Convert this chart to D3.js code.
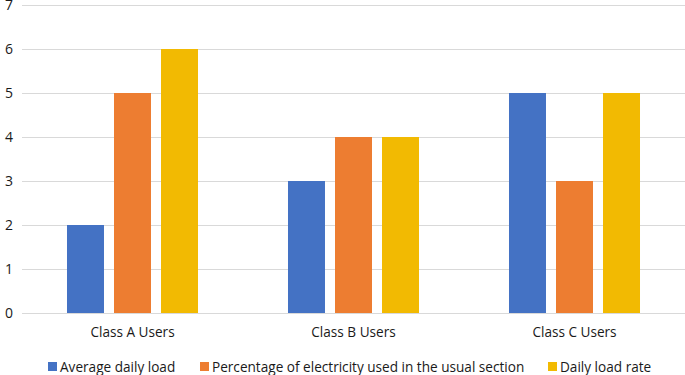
<!DOCTYPE html>
<html>
<head>
<meta charset="utf-8">
<script src="https://cdn.jsdelivr.net/npm/d3@7"></script>
<style>
  body { margin: 0; background: #fff; }
  svg { display: block; font-family: 'Open Sans', sans-serif; }
</style>
</head>
<body>
<svg id="chart" width="685" height="375"></svg>
<script>
const categories = ['Class A Users', 'Class B Users', 'Class C Users'];
const seriesNames = [
  'Average daily load',
  'Percentage of electricity used in the usual section',
  'Daily load rate'
];
const averageDailyLoad = [2, 3, 5];
const electricityPercentage = [5, 4, 3];
const dailyLoadRate = [6, 4, 5];
const yTicks = [0, 1, 2, 3, 4, 5, 6, 7];

const colors = ['#4472C4', '#ED7D31', '#F2BA02'];
const seriesValues = [averageDailyLoad, electricityPercentage, dailyLoadRate];

const svg = d3.select('#chart');
const margin = { top: 5, right: 0, bottom: 62, left: 22 };
const width = 685 - margin.left - margin.right;
const height = 375 - margin.top - margin.bottom;

const x0 = d3.scaleBand().domain(categories).range([0, width]).padding(0);
const groupPad = x0.bandwidth() * 0.2036;
const x1 = d3
  .scaleBand()
  .domain(d3.range(seriesNames.length))
  .range([groupPad, x0.bandwidth() - groupPad])
  .paddingInner(0.213)
  .paddingOuter(0);
const y = d3.scaleLinear().domain([0, 7]).range([height, 0]);

const g = svg.append('g').attr('transform', `translate(${margin.left},${margin.top})`);

// gridlines
g.selectAll('line.grid')
  .data(yTicks)
  .enter()
  .append('line')
  .attr('class', 'grid')
  .attr('x1', 0)
  .attr('x2', width)
  .attr('y1', d => Math.round(y(d)) + 0.5)
  .attr('y2', d => Math.round(y(d)) + 0.5)
  .attr('stroke', '#D9D9D9')
  .attr('stroke-width', 1);

// y labels
g.selectAll('text.ylab')
  .data(yTicks)
  .enter()
  .append('text')
  .attr('class', 'ylab')
  .attr('x', -17)
  .attr('y', d => y(d))
  .attr('dy', '0.35em')
  .attr('font-size', 14)
  .attr('fill', '#1a1a1a')
  .text(d => d);

// bars
const groups = g
  .selectAll('g.group')
  .data(categories)
  .enter()
  .append('g')
  .attr('class', 'group')
  .attr('transform', d => `translate(${x0(d)},0)`);

groups
  .selectAll('rect')
  .data((d, i) => seriesValues.map((vals, s) => ({ s, value: vals[i] })))
  .enter()
  .append('rect')
  .attr('x', d => x1(d.s))
  .attr('y', d => y(d.value))
  .attr('width', x1.bandwidth())
  .attr('height', d => y(0) - y(d.value))
  .attr('fill', d => colors[d.s]);

// category labels
g.selectAll('text.xlab')
  .data(categories)
  .enter()
  .append('text')
  .attr('class', 'xlab')
  .attr('x', d => x0(d) + x0.bandwidth() / 2)
  .attr('y', height + 24)
  .attr('text-anchor', 'middle')
  .attr('font-size', 13.6)
  .attr('fill', '#1a1a1a')
  .text(d => d);

// legend
const legendX = [48, 200, 548];
const legend = svg
  .selectAll('g.legend')
  .data(seriesNames)
  .enter()
  .append('g')
  .attr('class', 'legend')
  .attr('transform', (d, i) => `translate(${legendX[i]},367)`);
legend
  .append('rect')
  .attr('x', 0)
  .attr('y', -5)
  .attr('width', 9)
  .attr('height', 9)
  .attr('fill', (d, i) => colors[i]);
legend
  .append('text')
  .attr('x', 12)
  .attr('y', 0)
  .attr('dy', '0.35em')
  .attr('font-size', 13.6)
  .attr('fill', '#1a1a1a')
  .text(d => d);
</script>
</body>
</html>
